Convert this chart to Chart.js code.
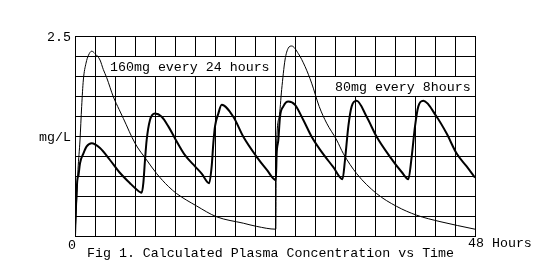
<!DOCTYPE html>
<html>
<head>
<meta charset="utf-8">
<script src="https://cdn.jsdelivr.net/npm/chart.js@4/dist/chart.umd.min.js"></script>
<style>
  html, body { margin: 0; padding: 0; background: #fff; }
  canvas { display: block; }
</style>
</head>
<body>
<canvas id="plasmaChart" width="542" height="267"></canvas>
<script>
// =========================
// Data (hours, mg/L)
// =========================

const hours160 = [0, 0.2, 0.36, 0.6, 0.8, 1.0, 1.32, 1.62, 2.0, 2.4, 3.0, 3.4, 3.8, 4.6, 5.3, 5.8,
  7.2, 8.6, 9.8, 11.2, 12.2, 14.6, 17.0, 20.2, 21.8, 24.1, 24.15, 24.5, 24.8, 25.2, 25.6, 26.0,
  26.8, 27.6, 28.4, 29.3, 30.2, 31.4, 32.2, 33.8, 36.2, 38.6, 41.0, 43.8, 48];
const conc160 = [0, 0.45, 0.83, 1.2, 1.62, 1.95, 2.16, 2.26, 2.31, 2.28, 2.2, 2.08, 1.98, 1.74, 1.58, 1.47,
  1.16, 0.95, 0.78, 0.62, 0.53, 0.375, 0.24, 0.16, 0.12, 0.085, 0.99, 1.49, 1.83, 2.2, 2.35, 2.375,
  2.28, 2.12, 1.91, 1.62, 1.41, 1.2, 1.03, 0.78, 0.53, 0.37, 0.26, 0.18, 0.085];

const hours80 = [0, 0.12, 0.28, 0.42, 0.6, 1.0, 1.4, 2.0, 3.0, 4.2, 5.3, 6.6, 7.2, 8.0,
  8.2, 8.4, 8.6, 9.0, 9.6, 10.4, 11.2, 12.0, 13.2, 14.4, 15.2, 16.1,
  16.4, 16.6, 16.8, 17.2, 17.6, 19.0, 20.2, 21.8, 23.0, 24.1,
  24.2, 24.4, 24.6, 25.0, 25.6, 26.4, 27.4, 28.4, 29.4, 31.0, 32.1,
  32.4, 32.8, 33.2, 33.8, 35.0, 36.2, 37.8, 39.2, 40.0,
  40.4, 40.8, 41.2, 41.8, 43.4, 44.6, 45.8, 47.0, 48.0];
const conc80 = [0, 0.37, 0.7, 0.76, 0.91, 1.03, 1.12, 1.16, 1.1, 0.95, 0.8, 0.66, 0.6, 0.54,
  0.66, 0.95, 1.2, 1.45, 1.53, 1.49, 1.37, 1.22, 1.01, 0.87, 0.78, 0.66,
  0.87, 1.16, 1.37, 1.53, 1.64, 1.49, 1.24, 0.99, 0.83, 0.7,
  1.03, 1.2, 1.49, 1.62, 1.68, 1.64, 1.45, 1.24, 1.08, 0.86, 0.71,
  0.95, 1.37, 1.62, 1.69, 1.49, 1.24, 0.99, 0.8, 0.71,
  0.99, 1.37, 1.62, 1.69, 1.49, 1.28, 1.03, 0.87, 0.73];

// series labels and where they sit (data units)
const seriesNames = ["160mg every 24 hours", "80mg every 8hours"];
const labelHours = [4.2, 31.2];
const labelConc = [2.06, 1.8125];

// axis text
const xTickValues = [0, 48];
const xTickTexts = ["0", "48 Hours"];
const yTickValues = [2.5, 1.25];
const yTickTexts = ["2.5", "mg/L"];
const figTitle = "Fig 1. Calculated Plasma Concentration vs Time";

const X_MAX = 48, X_STEP = 2.4;
const Y_MAX = 2.5, Y_STEP = 0.25;

const FONT = '13.3px "Liberation Mono", "DejaVu Sans Mono", monospace';

function toPoints(xs, ys) {
  return xs.map((x, i) => ({ x: x, y: ys[i] }));
}

function gridTicks(max, step) {
  const out = [];
  const n = Math.round(max / step);
  for (let i = 0; i <= n; i++) out.push({ value: +(i * step).toFixed(4) });
  return out;
}

// =========================
// Text plugin (labels, axis text, caption)
// =========================

const textPlugin = {
  id: "figText",
  beforeDatasetsDraw(chart) {
    const { ctx, scales } = chart;
    const xs = scales.x, ys = scales.y;
    ctx.save();
    ctx.font = FONT;
    ctx.textBaseline = "alphabetic";

    // series labels on white boxes
    seriesNames.forEach((name, i) => {
      const px = xs.getPixelForValue(labelHours[i]);
      const py = Math.round(ys.getPixelForValue(labelConc[i]));
      const w = ctx.measureText(name).width;
      ctx.fillStyle = "#fff";
      ctx.fillRect(px - 2, py - 14, Math.min(w + 4, chart.chartArea.right - px + 1), 19);
      ctx.fillStyle = "#000";
      ctx.textAlign = "left";
      ctx.fillText(name, px, py);
    });
    ctx.restore();
  },
  afterDraw(chart) {
    const { ctx, scales, chartArea } = chart;
    ctx.save();
    ctx.font = FONT;
    ctx.fillStyle = "#000";
    ctx.textBaseline = "alphabetic";

    // y axis text
    ctx.textAlign = "right";
    yTickValues.forEach((v, i) => {
      ctx.fillText(yTickTexts[i], chartArea.left - 4, scales.y.getPixelForValue(v) + 5);
    });

    // x axis text
    xTickValues.forEach((v, i) => {
      const px = scales.x.getPixelForValue(v);
      if (i === 0) {
        ctx.textAlign = "right";
        ctx.fillText(xTickTexts[i], px + 1, chartArea.bottom + 13);
      } else {
        ctx.textAlign = "left";
        ctx.fillText(xTickTexts[i], px - 7, chartArea.bottom + 11);
      }
    });

    // caption
    ctx.textAlign = "left";
    ctx.fillText(figTitle, 87, chartArea.bottom + 21);
    ctx.restore();
  }
};

// =========================
// Chart
// =========================

const ctx = document.getElementById("plasmaChart").getContext("2d");

new Chart(ctx, {
  type: "scatter",
  data: {
    datasets: [
      {
        label: seriesNames[0],
        data: toPoints(hours160, conc160),
        showLine: true,
        borderColor: "#000",
        borderWidth: 1,
        pointRadius: 0,
        cubicInterpolationMode: "monotone"
      },
      {
        label: seriesNames[1],
        data: toPoints(hours80, conc80),
        showLine: true,
        borderColor: "#000",
        borderWidth: 2,
        pointRadius: 0,
        cubicInterpolationMode: "monotone"
      }
    ]
  },
  options: {
    responsive: false,
    animation: false,
    devicePixelRatio: 1,
    layout: { padding: { left: 75, right: 67, top: 36, bottom: 31 } },
    plugins: {
      legend: { display: false },
      tooltip: { enabled: false }
    },
    scales: {
      x: {
        type: "linear",
        min: 0,
        max: X_MAX,
        afterBuildTicks: (scale) => { scale.ticks = gridTicks(X_MAX, X_STEP); },
        ticks: { display: false },
        grid: { color: "#000", lineWidth: 1, drawTicks: false },
        border: { color: "#000", width: 1 }
      },
      y: {
        type: "linear",
        min: 0,
        max: Y_MAX,
        afterBuildTicks: (scale) => { scale.ticks = gridTicks(Y_MAX, Y_STEP); },
        ticks: { display: false },
        grid: { color: "#000", lineWidth: 1, drawTicks: false },
        border: { color: "#000", width: 1 }
      }
    }
  },
  plugins: [textPlugin]
});
</script>
</body>
</html>
